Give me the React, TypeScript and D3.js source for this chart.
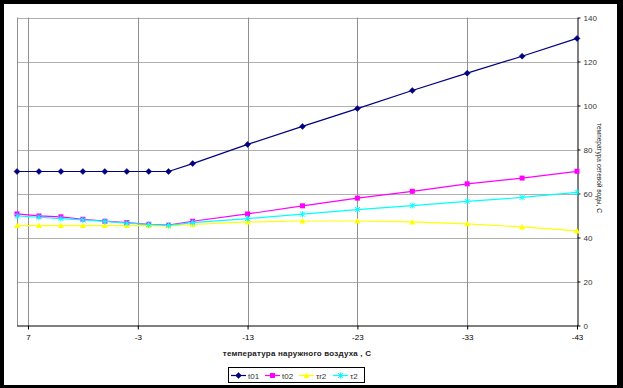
import React, { useRef, useEffect } from 'react';
import * as d3 from 'd3';

// outdoor temperature, C
const temps = [8, 6, 4, 2, 0, -2, -4, -5.8, -8, -13, -18, -23, -28, -33, -38, -43];

const t01 = [70, 70, 70, 70, 70, 70, 70, 70, 73.6, 82.3, 90.5, 98.6, 106.8, 114.7, 122.4, 130.5];
const t02 = [50.7, 49.8, 49.4, 48.3, 47.4, 46.8, 46.0, 45.6, 47.4, 50.7, 54.4, 57.9, 61.0, 64.4, 67.0, 70.1];
const tr2 = [45.4, 45.4, 45.4, 45.4, 45.4, 45.4, 45.4, 45.3, 45.9, 47.1, 47.5, 47.5, 47.1, 46.2, 44.8, 43.0];
const tau2 = [49.8, 49.2, 48.6, 48.0, 47.3, 46.5, 45.9, 45.5, 46.8, 48.6, 50.6, 52.7, 54.5, 56.4, 58.2, 60.5];

const xTicks = [7, -3, -13, -23, -33, -43];
const yTicks = [0, 20, 40, 60, 80, 100, 120, 140];

const seriesNames = ['t01', 't02', 'τr2', 'τ2'];
const seriesColors = ['#000080', '#ff00ff', '#ffff00', '#00ffff'];
const seriesMarkers = ['diamond', 'square', 'triangle', 'star'];

const font = '"Liberation Sans", Arial, sans-serif';

const drawMarker = (g, kind, color, x, y) => {
  if (kind === 'diamond') {
    g.append('path')
      .attr('d', `M${x},${y - 3}L${x + 3},${y}L${x},${y + 3}L${x - 3},${y}Z`)
      .attr('fill', color).attr('stroke', color).attr('stroke-width', 0.5);
  } else if (kind === 'square') {
    g.append('rect').attr('x', x - 2.5).attr('y', y - 2.5)
      .attr('width', 5).attr('height', 5).attr('fill', color);
  } else if (kind === 'triangle') {
    g.append('path')
      .attr('d', `M${x},${y - 3}L${x + 3},${y + 2.5}L${x - 3},${y + 2.5}Z`)
      .attr('fill', color);
  } else {
    g.append('path')
      .attr('d', `M${x - 2.5},${y - 2.5}L${x + 2.5},${y + 2.5}M${x + 2.5},${y - 2.5}L${x - 2.5},${y + 2.5}M${x},${y - 3}L${x},${y + 3}`)
      .attr('stroke', color).attr('stroke-width', 1).attr('fill', 'none');
  }
};

const App = () => {
  const svgRef = useRef(null);

  useEffect(() => {
    const width = 623;
    const height = 388;
    const plot = { left: 17, right: 577, top: 17.5, bottom: 325.5 };

    const svg = d3.select(svgRef.current)
      .attr('width', width)
      .attr('height', height);
    svg.selectAll('*').remove();

    // black frame
    svg.append('rect').attr('width', width).attr('height', height).attr('fill', '#000');
    svg.append('rect').attr('x', 4).attr('y', 4).attr('width', 613).attr('height', 381).attr('fill', '#fff');

    const x = d3.scaleLinear().domain([8, -43]).range([plot.left, plot.right]);
    const y = d3.scaleLinear().domain([0, 140]).range([plot.bottom, plot.top]);

    // horizontal gridlines
    svg.append('g')
      .selectAll('line')
      .data(yTicks.filter(d => d > 0))
      .enter()
      .append('line')
      .attr('x1', plot.left).attr('x2', plot.right)
      .attr('y1', d => Math.round(y(d)) + 0.5).attr('y2', d => Math.round(y(d)) + 0.5)
      .attr('stroke', '#b0b0b0');

    // vertical gridlines
    svg.append('g')
      .selectAll('line')
      .data(xTicks.slice(0, -1))
      .enter()
      .append('line')
      .attr('x1', d => Math.round(x(d)) + 0.5).attr('x2', d => Math.round(x(d)) + 0.5)
      .attr('y1', plot.top).attr('y2', plot.bottom)
      .attr('stroke', '#909090');

    // left plot border
    svg.append('line')
      .attr('x1', plot.left + 0.5).attr('x2', plot.left + 0.5)
      .attr('y1', plot.top).attr('y2', plot.bottom)
      .attr('stroke', '#909090');

    // x axis
    const xAxis = svg.append('g')
      .attr('transform', `translate(0,${plot.bottom})`)
      .call(d3.axisBottom(x).tickValues(xTicks).tickSize(4).tickSizeOuter(0).tickFormat(d3.format('d')));
    xAxis.select('.domain').attr('stroke', '#000').attr('d', `M${plot.left},0.5H${plot.right + 1}`);
    xAxis.selectAll('line').attr('stroke', '#000');
    xAxis.selectAll('text')
      .attr('y', 9)
      .style('font-family', font)
      .style('font-size', '8px')
      .attr('fill', '#000')
      .text(d => String(d).replace('−', '-'));

    // right y axis
    const yAxis = svg.append('g')
      .attr('transform', `translate(${plot.right + 0.5},0)`)
      .call(d3.axisRight(y).tickValues(yTicks).tickSize(3).tickSizeOuter(0));
    yAxis.select('.domain').attr('stroke', '#000');
    yAxis.selectAll('line').attr('stroke', '#000');
    yAxis.selectAll('text')
      .attr('x', 6)
      .style('font-family', font)
      .style('font-size', '8px')
      .attr('fill', '#333');

    // axis titles
    svg.append('text')
      .attr('x', 297).attr('y', 356)
      .attr('text-anchor', 'middle')
      .style('font-family', font)
      .style('font-size', '8px')
      .style('font-weight', 'bold')
      .style('letter-spacing', '0.2px')
      .attr('fill', '#222')
      .text('температура наружного воздуха , С');

    svg.append('text')
      .attr('transform', 'translate(597,168) rotate(90)')
      .attr('text-anchor', 'middle')
      .style('font-family', font)
      .style('font-size', '6.5px')
      .attr('fill', '#222')
      .text('температура сетевой воды, С');

    // series
    const allSeries = [t01, t02, tr2, tau2];
    const line = d3.line().x(d => x(d[0])).y(d => y(d[1]));

    allSeries.forEach((vals, i) => {
      const pts = temps.map((t, j) => [t, vals[j]]);
      const g = svg.append('g');
      g.append('path')
        .datum(pts)
        .attr('d', line)
        .attr('fill', 'none')
        .attr('stroke', seriesColors[i])
        .attr('stroke-width', 1.2);
      pts.forEach(p => drawMarker(g, seriesMarkers[i], seriesColors[i], x(p[0]), y(p[1])));
    });

    // legend
    const legend = svg.append('g');
    legend.append('rect')
      .attr('x', 228.5).attr('y', 367.5).attr('width', 136).attr('height', 15)
      .attr('fill', '#fff').attr('stroke', '#000');
    const legendX = [231, 265, 299, 333];
    seriesNames.forEach((name, i) => {
      const lx = legendX[i];
      legend.append('line')
        .attr('x1', lx).attr('x2', lx + 15).attr('y1', 375.5).attr('y2', 375.5)
        .attr('stroke', seriesColors[i]).attr('stroke-width', 1.2);
      drawMarker(legend, seriesMarkers[i], seriesColors[i], lx + 7.5, 375.5);
      legend.append('text')
        .attr('x', lx + 17).attr('y', 378.5)
        .style('font-family', font)
        .style('font-size', '8px')
        .attr('fill', '#333')
        .text(name);
    });
  }, []);

  return <svg ref={svgRef} style={{ position: 'absolute', left: 0, top: 0, display: 'block' }}></svg>;
};

export default App;
